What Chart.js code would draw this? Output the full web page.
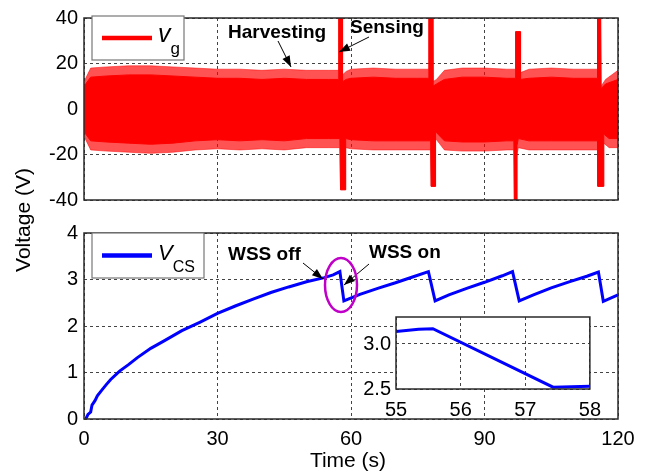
<!DOCTYPE html>
<html>
<head>
<meta charset="utf-8">
<script src="https://cdn.jsdelivr.net/npm/chart.js@4"></script>
<style>
  body { margin: 0; background: #fff; }
  #wrap { position: relative; width: 664px; height: 474px; }
  #wrap canvas { position: absolute; }
</style>
</head>
<body>
<div id="wrap">
  <canvas id="bottomChart" width="664" height="474" style="left:0;top:0"></canvas>
  <canvas id="topChart" width="664" height="474" style="left:0;top:0"></canvas>
  <canvas id="insetChart" width="270" height="120" style="left:340px;top:300px"></canvas>
</div>
<script>
// tick labels
const timeTicks = [0, 30, 60, 90, 120];
const vgTicks = [-40, -20, 0, 20, 40];
const vcsTicks = [0, 1, 2, 3, 4];
const insetTimeTicks = [55, 56, 57, 58];
const insetVTicks = [2.5, 3.0];

// v_g band, read as envelopes (tips of the teeth and solid core)
const vgUpperT = [0, 1.5, 5, 10, 15, 20, 25, 30, 35, 40, 45, 50, 55, 57.1, 57.25, 58.0, 58.1, 58.9, 60, 65, 70, 75, 77.4, 77.5, 78.3, 78.4, 79.2, 81, 85, 90, 95, 96.9, 97.0, 98.0, 98.1, 100, 105, 110, 115.3, 115.4, 116.1, 116.2, 117.2, 120];
const vgUpperTip = [12, 18, 18.5, 19, 19, 18.5, 18, 17.5, 17.5, 17, 17.5, 17, 17, 17, 40, 40, 15, 16.5, 17.5, 18, 17.5, 17.5, 17.5, 40, 40, 12, 13, 17, 18, 18, 17.5, 17.5, 34, 34, 16, 17.5, 18, 17.5, 17.5, 40, 40, 10, 13, 17];
const vgUpperCore = [10, 14, 14.5, 15, 15, 14.5, 14, 13.5, 13.5, 13, 13.5, 13, 13, 13, 40, 40, 12, 13, 13.5, 14, 13.5, 13.5, 13.5, 40, 40, 10, 11, 13, 14, 14, 13.5, 13.5, 34, 34, 13, 13.5, 14, 13.5, 13.5, 40, 40, 9, 11, 13];
const vgLowerT = [0, 1.5, 5, 10, 15, 20, 25, 30, 35, 40, 45, 50, 55, 57.5, 57.65, 58.7, 58.8, 60, 65, 70, 75, 77.9, 78.0, 78.9, 79.0, 81, 85, 90, 95, 96.6, 96.7, 97.2, 97.3, 97.6, 100, 105, 110, 115.4, 115.5, 116.7, 116.8, 118, 120];
const vgLowerTip = [-12, -18, -18.5, -19, -19.5, -19, -18, -17.5, -18, -17.5, -18, -17, -17, -17, -35.5, -35.5, -17, -17.5, -18, -18, -18, -18, -34, -34, -13, -18, -18.5, -18.5, -18, -18, -40, -40, -20, -17, -18, -18, -18, -18, -34, -34, -15, -17, -17];
const vgLowerCore = [-10, -14, -14.5, -15, -15.5, -15, -14, -13.5, -14, -13.5, -14, -13, -13, -13, -35.5, -35.5, -13, -13.5, -14, -14, -14, -14, -34, -34, -10, -14, -14.5, -14.5, -14, -14, -40, -40, -16, -13, -14, -14, -14, -14, -34, -34, -11, -13, -13];

// V_CS
const vcsT = [0.4, 0.9, 1.5, 1.8, 2.5, 3, 4, 5, 6, 8, 10, 12, 15, 18, 22, 26, 30, 34, 38, 42, 46, 50, 54, 56, 57.5, 58.4, 62, 66, 70, 74, 77.4, 78.9, 82, 86, 90, 94, 96.3, 97.8, 101, 105, 109, 113, 115.6, 116.7, 120];
const vcsV = [0, 0.1, 0.15, 0.3, 0.4, 0.5, 0.62, 0.74, 0.85, 1.03, 1.17, 1.32, 1.52, 1.68, 1.9, 2.08, 2.27, 2.43, 2.58, 2.72, 2.84, 2.95, 3.04, 3.1, 3.17, 2.54, 2.68, 2.81, 2.93, 3.06, 3.17, 2.54, 2.67, 2.81, 2.94, 3.08, 3.17, 2.54, 2.67, 2.82, 2.95, 3.07, 3.16, 2.53, 2.67];

// inset (zoom of the WSS on drop)
const insetT = [55, 55.35, 55.57, 57.43, 58];
const insetV = [3.14, 3.165, 3.17, 2.52, 2.53];

const FONT = "'Liberation Sans', Arial, sans-serif";
Chart.defaults.font.family = FONT;
Chart.defaults.color = '#000';

const pts = (t, v) => t.map((x, i) => ({ x: x, y: v[i] }));
const setTicks = list => scale => { scale.ticks = list.map(v => ({ value: v })); };

const gridOpts = { color: '#444', lineWidth: 1, drawTicks: false };
const borderOpts = { display: false, dash: [3, 3] };

function frame(ctx, a) {
  ctx.save();
  ctx.strokeStyle = '#2a2a2a';
  ctx.lineWidth = 1.5;
  ctx.strokeRect(a.left, a.top, a.right - a.left, a.bottom - a.top);
  ctx.restore();
}

function arrow(ctx, x1, y1, x2, y2) {
  const ang = Math.atan2(y2 - y1, x2 - x1);
  ctx.save();
  ctx.strokeStyle = '#000';
  ctx.fillStyle = '#000';
  ctx.lineWidth = 1;
  ctx.beginPath();
  ctx.moveTo(x1, y1);
  ctx.lineTo(x2, y2);
  ctx.stroke();
  ctx.beginPath();
  ctx.moveTo(x2, y2);
  ctx.lineTo(x2 - 11 * Math.cos(ang) + 4 * Math.sin(ang), y2 - 11 * Math.sin(ang) - 4 * Math.cos(ang));
  ctx.lineTo(x2 - 11 * Math.cos(ang) - 4 * Math.sin(ang), y2 - 11 * Math.sin(ang) + 4 * Math.cos(ang));
  ctx.closePath();
  ctx.fill();
  ctx.restore();
}

function legendBox(ctx, x, y, w, h, color, main, sub, mainSize, subSize, baseY) {
  ctx.save();
  ctx.fillStyle = '#fff';
  ctx.fillRect(x, y, w, h);
  ctx.strokeStyle = '#777';
  ctx.lineWidth = 1.2;
  ctx.strokeRect(x, y, w, h);
  ctx.strokeStyle = color;
  ctx.lineWidth = 4.5;
  ctx.beginPath();
  ctx.moveTo(x + 10, y + h / 2);
  ctx.lineTo(x + 60, y + h / 2);
  ctx.stroke();
  ctx.fillStyle = '#000';
  ctx.textBaseline = 'alphabetic';
  ctx.font = 'italic ' + mainSize + 'px ' + FONT;
  ctx.fillText(main, x + 66, baseY);
  const mw = ctx.measureText(main).width;
  ctx.font = subSize + 'px ' + FONT;
  ctx.fillText(sub, x + 66 + mw, baseY + 12);
  ctx.restore();
}

function label(ctx, text, x, y) {
  ctx.save();
  ctx.font = 'bold 19px ' + FONT;
  ctx.fillStyle = '#000';
  ctx.textBaseline = 'alphabetic';
  ctx.fillText(text, x, y);
  ctx.restore();
}

const topDecor = {
  id: 'topDecor',
  afterDraw(chart) {
    const ctx = chart.ctx;
    frame(ctx, chart.chartArea);
    legendBox(ctx, 92, 16, 92, 44, '#ff0000', 'v', 'g', 25, 17, 42);
    label(ctx, 'Harvesting', 228, 38);
    arrow(ctx, 278, 41, 291, 67);
    label(ctx, 'Sensing', 350, 33);
    arrow(ctx, 369, 37, 339, 52);
  }
};

const bottomDecor = {
  id: 'bottomDecor',
  afterDraw(chart) {
    const ctx = chart.ctx;
    frame(ctx, chart.chartArea);
    legendBox(ctx, 92, 233, 112, 45, '#0000ff', 'V', 'CS', 22, 16, 260);
    label(ctx, 'WSS off', 228, 260);
    arrow(ctx, 303, 263, 323, 279);
    label(ctx, 'WSS on', 369, 258);
    arrow(ctx, 369, 264, 344, 285);
    ctx.save();
    ctx.strokeStyle = '#c000c8';
    ctx.lineWidth = 2.5;
    ctx.beginPath();
    ctx.ellipse(341, 285, 16, 27, 0, 0, Math.PI * 2);
    ctx.stroke();
    ctx.fillStyle = '#000';
    ctx.font = '21px ' + FONT;
    ctx.textAlign = 'center';
    ctx.textBaseline = 'alphabetic';
    ctx.fillText('Time (s)', 348, 467);
    ctx.translate(24, 220);
    ctx.rotate(-Math.PI / 2);
    ctx.textBaseline = 'middle';
    ctx.fillText('Voltage (V)', 0, 0);
    ctx.restore();
  }
};

const insetDecor = {
  id: 'insetDecor',
  beforeDraw(chart) {
    const a = chart.chartArea;
    chart.ctx.save();
    chart.ctx.fillStyle = '#fff';
    chart.ctx.fillRect(a.left, a.top, a.right - a.left, a.bottom - a.top);
    chart.ctx.restore();
  },
  afterDraw(chart) { frame(chart.ctx, chart.chartArea); }
};

const common = {
  responsive: false,
  animation: false,
  plugins: { legend: { display: false }, tooltip: { enabled: false } }
};

new Chart(document.getElementById('topChart').getContext('2d'), {
  type: 'line',
  data: {
    datasets: [
      { label: 'vg core +', data: pts(vgUpperT, vgUpperCore), fill: 'origin', backgroundColor: '#ff0000', borderColor: '#ff0000', borderWidth: 1, pointRadius: 0 },
      { label: 'vg core -', data: pts(vgLowerT, vgLowerCore), fill: 'origin', backgroundColor: '#ff0000', borderColor: '#ff0000', borderWidth: 1, pointRadius: 0 },
      { label: 'vg tips +', data: pts(vgUpperT, vgUpperTip), fill: 'origin', backgroundColor: 'rgba(255,0,0,0.68)', borderColor: 'rgba(255,0,0,0.5)', borderWidth: 1, pointRadius: 0 },
      { label: 'vg tips -', data: pts(vgLowerT, vgLowerTip), fill: 'origin', backgroundColor: 'rgba(255,0,0,0.68)', borderColor: 'rgba(255,0,0,0.5)', borderWidth: 1, pointRadius: 0 }
    ]
  },
  options: Object.assign({}, common, {
    layout: { padding: { top: 14, right: 46, bottom: 274, left: 0 } },
    scales: {
      x: {
        type: 'linear', min: 0, max: 120,
        afterBuildTicks: setTicks(timeTicks),
        afterFit: s => { s.height = 0; },
        ticks: { display: false },
        grid: gridOpts, border: borderOpts
      },
      y: {
        min: -40, max: 40,
        afterBuildTicks: setTicks(vgTicks),
        afterFit: s => { s.width = 84; },
        ticks: { padding: 6, font: { size: 20 } },
        grid: gridOpts, border: borderOpts
      }
    }
  }),
  plugins: [topDecor]
});

new Chart(document.getElementById('bottomChart').getContext('2d'), {
  type: 'line',
  data: {
    datasets: [
      { label: 'VCS', data: pts(vcsT, vcsV), borderColor: '#0000ff', borderWidth: 3, pointRadius: 0, fill: false }
    ]
  },
  options: Object.assign({}, common, {
    layout: { padding: { top: 233, right: 46, bottom: 20, left: 0 } },
    scales: {
      x: {
        type: 'linear', min: 0, max: 120,
        afterBuildTicks: setTicks(timeTicks),
        afterFit: s => { s.height = 35; },
        ticks: { padding: 8, font: { size: 20 }, maxRotation: 0, autoSkip: false },
        grid: gridOpts, border: borderOpts
      },
      y: {
        min: 0, max: 4,
        afterBuildTicks: setTicks(vcsTicks),
        afterFit: s => { s.width = 84; },
        ticks: { padding: 6, font: { size: 20 } },
        grid: gridOpts, border: borderOpts
      }
    }
  }),
  plugins: [bottomDecor]
});

new Chart(document.getElementById('insetChart').getContext('2d'), {
  type: 'line',
  data: {
    datasets: [
      { label: 'VCS zoom', data: pts(insetT, insetV), borderColor: '#0000ff', borderWidth: 3, pointRadius: 0, fill: false }
    ]
  },
  options: Object.assign({}, common, {
    layout: { padding: { top: 9, right: 17, bottom: 1, left: 0 } },
    scales: {
      x: {
        type: 'linear', min: 55, max: 58,
        afterBuildTicks: setTicks(insetTimeTicks),
        afterFit: s => { s.height = 30; },
        ticks: { padding: 9, font: { size: 20 }, maxRotation: 0, autoSkip: false },
        grid: gridOpts, border: borderOpts
      },
      y: {
        min: 2.5, max: 3.3,
        afterBuildTicks: setTicks(insetVTicks),
        afterFit: s => { s.width = 56; },
        ticks: { padding: 5, font: { size: 20 }, callback: v => v.toFixed(1) },
        grid: gridOpts, border: borderOpts
      }
    }
  }),
  plugins: [insetDecor]
});
</script>
</body>
</html>
